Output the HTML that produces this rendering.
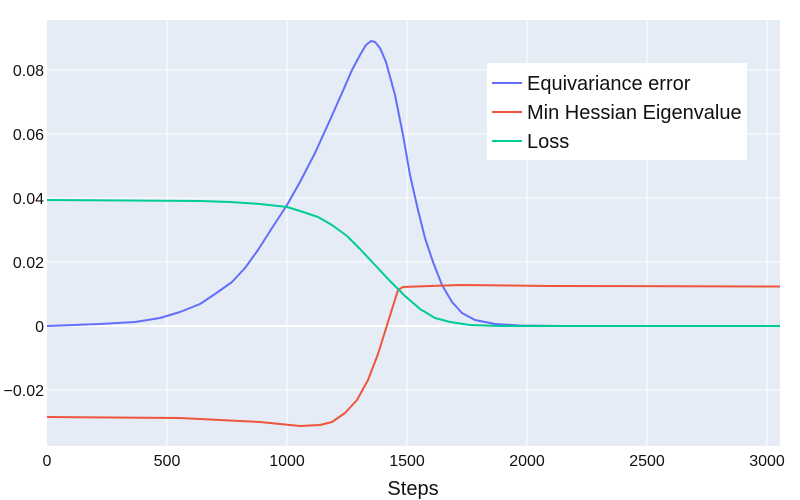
<!DOCTYPE html>
<html><head><style>body{margin:0;background:#fff}svg{display:block}text{font-family:"Liberation Sans",sans-serif;fill:#111}</style></head>
<body>
<svg width="800" height="500" xmlns="http://www.w3.org/2000/svg">
<rect x="47" y="20" width="733" height="426" fill="#e5ecf6"/>
<g stroke="#fff" stroke-width="1">
<line x1="167" y1="20" x2="167" y2="446"/><line x1="287" y1="20" x2="287" y2="446"/><line x1="407" y1="20" x2="407" y2="446"/><line x1="527" y1="20" x2="527" y2="446"/><line x1="647" y1="20" x2="647" y2="446"/><line x1="767" y1="20" x2="767" y2="446"/>
<line x1="47" y1="70" x2="780" y2="70"/><line x1="47" y1="134" x2="780" y2="134"/><line x1="47" y1="198" x2="780" y2="198"/><line x1="47" y1="262" x2="780" y2="262"/><line x1="47" y1="390" x2="780" y2="390"/>
</g>
<line x1="47" y1="326" x2="780" y2="326" stroke="#fff" stroke-width="2"/>
<g font-size="16" text-anchor="end">
<text x="44" y="76">0.08</text><text x="44" y="140">0.06</text><text x="44" y="204">0.04</text><text x="44" y="268">0.02</text><text x="44" y="332">0</text><text x="44" y="396">−0.02</text>
</g>
<g font-size="16" text-anchor="middle">
<text x="47" y="466">0</text><text x="167" y="466">500</text><text x="287" y="466">1000</text><text x="407" y="466">1500</text><text x="527" y="466">2000</text><text x="647" y="466">2500</text><text x="767" y="466">3000</text>
</g>
<text x="413" y="495" font-size="20" text-anchor="middle">Steps</text>
<g fill="none" stroke-width="2" stroke-linejoin="round">
<polyline stroke="#636efa" points="47,326 100,324 135,322 160,318 180,312 200,304 215,294 232,282 245,268 258,250 272,228 287,205 300,182 315,153 330,120 342,93 352,70 360,55 366,45 371,41 375,42 380,48 386,62 395,95 403,135 410,175 418,210 425,238 433,262 442,285 452,302 462,313 475,320 495,324 520,325.5 560,326 780,326"/>
<polyline stroke="#ef553b" points="47,417 180,418 220,420 260,422 300,426 320,425 332,422 345,413 357,400 368,380 378,354 388,322 398,290 403,287 430,286 460,285 550,286 780,286.5"/>
<polyline stroke="#00cc96" points="47,200 200,201 230,202 260,204 287,207 300,211 318,217 332,225 347,236 360,249 375,265 390,281 405,296 420,309 435,318 450,322 470,325 500,326 780,326"/>
</g>
<rect x="487" y="63" width="260" height="97" fill="#fff"/>
<g stroke-width="2"><line x1="492" y1="83" x2="522" y2="83" stroke="#636efa"/><line x1="492" y1="112" x2="522" y2="112" stroke="#ef553b"/><line x1="492" y1="141" x2="522" y2="141" stroke="#00cc96"/></g>
<g font-size="20"><text x="527" y="90">Equivariance error</text><text x="527" y="119">Min Hessian Eigenvalue</text><text x="527" y="148">Loss</text></g>
</svg>
</body></html>
